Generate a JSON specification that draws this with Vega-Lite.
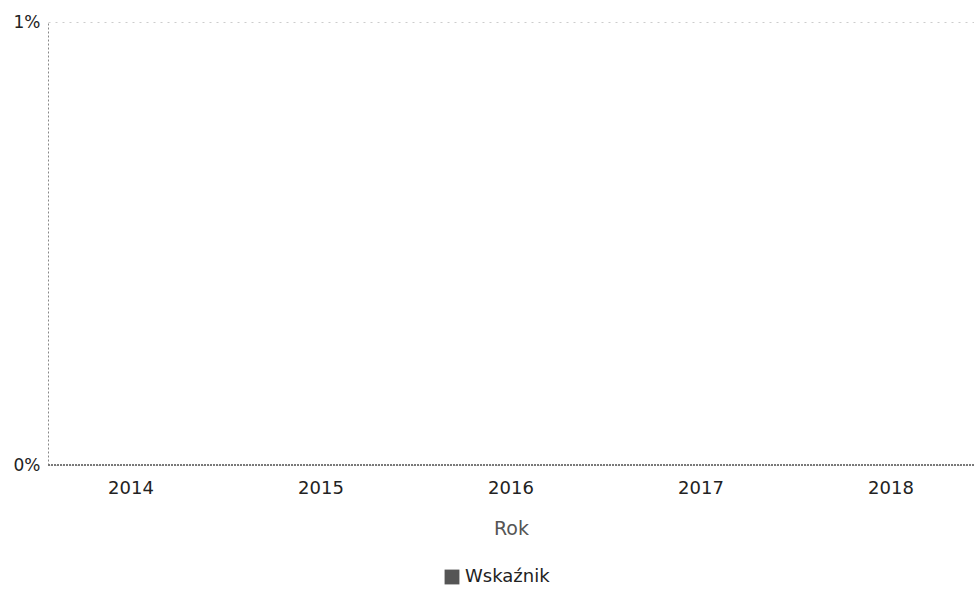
{
  "$schema": "https://vega.github.io/schema/vega-lite/v6.json",
  "autosize": {"type": "none"},
  "padding": {"left": 48, "top": 22, "right": 0, "bottom": 124},
  "width": 926,
  "height": 443,
  "background": "white",
  "data": {"values": [
    {"Rok": "2014", "Seria": "Wskaźnik", "Wartosc": 0},
    {"Rok": "2015", "Seria": "Wskaźnik", "Wartosc": 0},
    {"Rok": "2016", "Seria": "Wskaźnik", "Wartosc": 0},
    {"Rok": "2017", "Seria": "Wskaźnik", "Wartosc": 0},
    {"Rok": "2018", "Seria": "Wskaźnik", "Wartosc": 0}
  ]},
  "layer": [
    {
      "mark": {"type": "rule", "color": "#777", "strokeDash": [2, 1], "strokeWidth": 1},
      "encoding": {"y": {"datum": 0, "type": "quantitative"}}
    },
    {
      "mark": {"type": "bar"},
      "encoding": {
        "x": {
          "field": "Rok", "type": "nominal", "title": "Rok",
          "scale": {"paddingInner": 0.2, "paddingOuter": 0.037},
          "axis": {"labelAngle": 0, "ticks": false, "domain": false, "labelFont": "DejaVu Sans", "labelFontSize": 18, "labelColor": "#222", "labelPadding": 14, "titleFont": "DejaVu Sans", "titleFontSize": 19, "titleFontWeight": "normal", "titleColor": "#555", "titlePadding": 22}
        },
        "y": {
          "field": "Wartosc", "type": "quantitative", "title": null,
          "scale": {"domain": [0, 0.01]},
          "axis": {"values": [0, 0.01], "format": ".0%", "ticks": false, "domain": true, "domainColor": "#888", "domainDash": [2, 2], "grid": true, "gridColor": "#ccc", "gridDash": [2, 5], "labelFont": "DejaVu Sans", "labelFontSize": 17, "labelColor": "#222", "labelPadding": 8}
        },
        "color": {
          "field": "Seria", "type": "nominal", "title": null,
          "scale": {"range": ["#555555"]},
          "legend": {"orient": "none", "legendX": 395, "legendY": 546, "symbolType": "square", "symbolSize": 220, "symbolStrokeWidth": 0, "labelFont": "DejaVu Sans", "labelFontSize": 18, "labelColor": "#222", "direction": "horizontal"}
        }
      }
    }
  ],
  "config": {"view": {"stroke": null}}
}
